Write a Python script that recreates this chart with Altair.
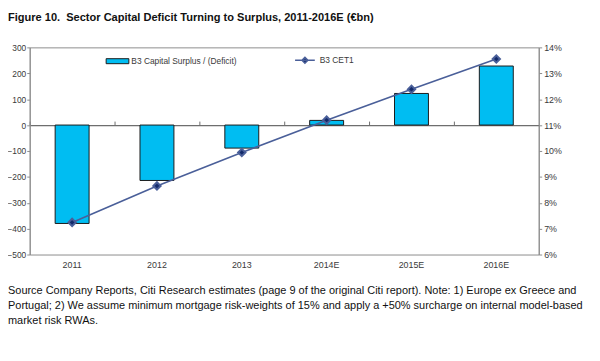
import altair as alt
import pandas as pd

years = ["2011", "2012", "2013", "2014E", "2015E", "2016E"]
surplus = [-380, -214, -89, 18, 122, 228]          # EUR bn
cet1_pct = [7.24, 8.65, 9.94, 11.19, 12.38, 13.55]  # %
left_ticks = [-500, -400, -300, -200, -100, 0, 100, 200, 300]
right_ticks = [0.06, 0.07, 0.08, 0.09, 0.10, 0.11, 0.12, 0.13, 0.14]

bar_label = "B3 Capital Surplus / (Deficit)"
line_label = "B3 CET1"
title_text = "Figure 10.\u00a0 Sector Capital Deficit Turning to Surplus, 2011-2016E (\u20acbn)"
note_lines = [
    "Source Company Reports, Citi Research estimates (page 9 of the original Citi report). Note: 1) Europe ex Greece and",
    "Portugal; 2) We assume minimum mortgage risk-weights of 15% and apply a +50% surcharge on internal model-based",
    "market risk RWAs.",
]

FONT = "Liberation Sans, Arial"
LBL = "#3a3a3a"
AX = "#8c8c8c"

df = pd.DataFrame({
    "year": years,
    "surplus": surplus,
    "cet1": [v / 100 for v in cet1_pct],
    "bar_series": [bar_label] * len(years),
    "line_series": [line_label] * len(years),
})

W, H = 516, 210

bars = alt.Chart(df).mark_bar(
    width=alt.RelativeBandSize(0.4), stroke="#1a1a1a", strokeWidth=1
).encode(
    x=alt.X(
        "year:N", sort=years,
        scale=alt.Scale(paddingInner=0, paddingOuter=0),
        axis=alt.Axis(title=None, orient="bottom", ticks=False, domain=False,
                      labelAngle=0, labelPadding=6, labelFont=FONT,
                      labelFontSize=9, labelColor=LBL),
    ),
    y=alt.Y(
        "surplus:Q",
        scale=alt.Scale(domain=[-500, 300], nice=False, zero=False),
        axis=alt.Axis(title=None, values=left_ticks, grid=False, orient="left",
                      domainColor=AX, tickColor=AX, tickSize=3, labelPadding=1,
                      labelFont=FONT, labelFontSize=8.5, labelColor=LBL),
    ),
    fill=alt.Fill(
        "bar_series:N",
        scale=alt.Scale(range=["#00bdf2"]),
        legend=alt.Legend(
            title=None, orient="none", legendX=77, legendY=2, padding=0,
            symbolType="M-1,-0.22H1V0.22H-1Z", symbolSize=529,
            symbolStrokeColor="#1a1a1a", symbolStrokeWidth=1,
            labelOffset=2, labelFont=FONT, labelFontSize=8.5, labelColor=LBL,
        ),
    ),
)

line = alt.Chart(df).mark_line(
    strokeWidth=1.6,
    point=alt.OverlayMarkDef(shape="diamond", size=55, filled=True,
                             color="#132a6b", opacity=1),
).encode(
    x=alt.X(
        "year:N", sort=years,
        axis=alt.Axis(title=None, orient="top", offset=-(H * 300 / 800),
                      labels=False, domain=True, domainColor="#6e6e6e",
                      domainWidth=1.3, ticks=True, bandPosition=0,
                      tickSize=4, tickColor="#6e6e6e", tickWidth=1),
    ),
    y=alt.Y("cet1:Q",
            scale=alt.Scale(domain=[0.06, 0.14], nice=False, zero=False),
            axis=alt.Axis(title=None, values=right_ticks, format=".0%",
                          orient="right", grid=False, domainColor=AX,
                          tickColor=AX, tickSize=3, labelPadding=2,
                          labelFont=FONT, labelFontSize=9, labelColor=LBL)),
    stroke=alt.Stroke(
        "line_series:N",
        scale=alt.Scale(range=["#4a5f99"]),
        legend=alt.Legend(
            title=None, orient="none", legendX=268, legendY=2, padding=0,
            symbolType="M-1,0H1M-0.3,0L0,-0.3L0.3,0L0,0.3Z", symbolSize=400,
            symbolFillColor="#132a6b", symbolStrokeWidth=1.5,
            labelOffset=4, labelFont=FONT, labelFontSize=8.5, labelColor=LBL,
        ),
    ),
)

title = alt.Chart(pd.DataFrame({"t": [title_text]})).mark_text(
    align="left", baseline="alphabetic", font=FONT, fontSize=11.2,
    fontWeight="bold", color="#111111"
).encode(text="t:N", x=alt.value(-22), y=alt.value(-26.5))

note = alt.Chart(pd.DataFrame({"t": [note_lines]})).mark_text(
    align="left", baseline="alphabetic", font=FONT, fontSize=11.1,
    lineHeight=15, color="#111111"
).encode(text="t", x=alt.value(-22), y=alt.value(250.5))

chart = alt.layer(bars, line, title, note).resolve_scale(
    y="independent", fill="independent", stroke="independent"
).properties(
    width=W, height=H,
    autosize="none",
    padding={"left": 22, "top": 37.5, "right": 54, "bottom": 105},
).configure_view(stroke=AX, strokeWidth=1)

chart.save("out.html", embed_options={"renderer": "svg", "actions": False})
